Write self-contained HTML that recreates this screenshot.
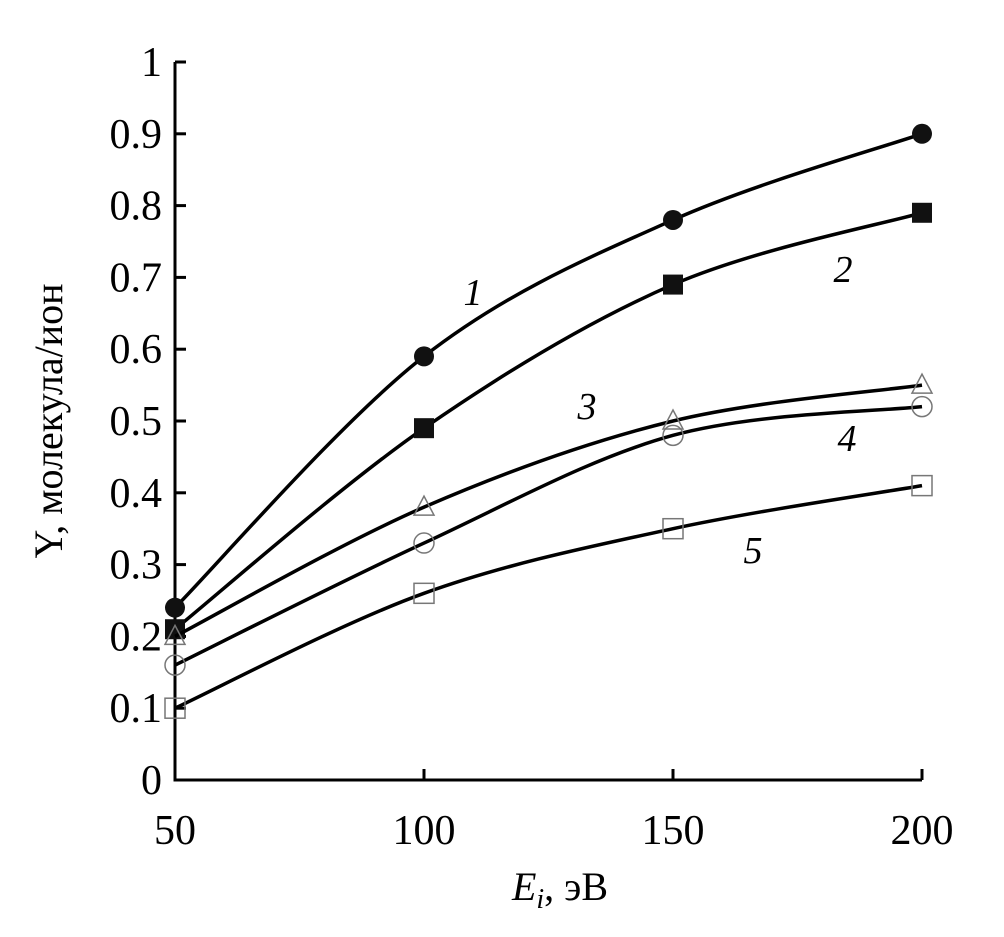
<!DOCTYPE html>
<html><head><meta charset="utf-8"><style>
html,body{margin:0;padding:0;background:#fff;}
svg{display:block;font-family:"Liberation Serif",serif;}
</style></head><body>
<svg id="chart" width="1004" height="937" viewBox="0 0 1004 937"></svg>
<script>
const xValues=[50,100,150,200];
const series1=[0.24,0.59,0.78,0.90];
const series2=[0.21,0.49,0.69,0.79];
const series3=[0.20,0.38,0.50,0.55];
const series4=[0.16,0.33,0.48,0.52];
const series5=[0.10,0.26,0.35,0.41];
const seriesNames=["1","2","3","4","5"];
const xTicks=[50,100,150,200];
const yTicks=[0,0.1,0.2,0.3,0.4,0.5,0.6,0.7,0.8,0.9,1];
const yTickLabels=["0","0.1","0.2","0.3","0.4","0.5","0.6","0.7","0.8","0.9","1"];

const NS="http://www.w3.org/2000/svg";
const svg=document.getElementById('chart');
const X0=175,X1=922,Y0=780,Y1=62;
const sx=v=>X0+(v-50)/150*(X1-X0);
const sy=v=>Y0-v*(Y0-Y1);
function el(t,a,p){const e=document.createElementNS(NS,t);for(const k in a)e.setAttribute(k,a[k]);(p||svg).appendChild(e);return e;}

const ax=el('path',{d:`M${X0} ${Y1} V${Y0} H${X1}`,stroke:'#000','stroke-width':3,fill:'none'});


yTicks.forEach((v,i)=>{
  const t=el('line',{x1:X0,x2:X0+11,y1:sy(v),y2:sy(v),stroke:'#000','stroke-width':3});
  
  
  const l=el('text',{x:X0-13,y:sy(v)+14,'text-anchor':'end','font-size':42});
  l.textContent=yTickLabels[i];
  
  
});
xTicks.forEach(v=>{
  const t=el('line',{x1:sx(v),x2:sx(v),y1:Y0,y2:Y0-11,stroke:'#000','stroke-width':3});
  
  
  const l=el('text',{x:sx(v),y:Y0+64,'text-anchor':'middle','font-size':42});
  l.textContent=String(v);
  
  
});
const yt=el('text',{transform:'translate(62,421) rotate(-90)','text-anchor':'middle','font-size':40});
yt.textContent='Y, молекула/ион';


const xt=el('text',{x:560,y:900,'text-anchor':'middle','font-size':40});
xt.innerHTML='<tspan font-style="italic">E</tspan><tspan font-style="italic" font-size="28" dy="8">i</tspan><tspan dy="-8">, эВ</tspan>';



function smooth(pts){
  let d=`M${pts[0][0]} ${pts[0][1]}`;
  for(let i=0;i<pts.length-1;i++){
    const p0=pts[Math.max(0,i-1)],p1=pts[i],p2=pts[i+1],p3=pts[Math.min(pts.length-1,i+2)];
    const t=0.5/3;
    d+=` C${p1[0]+(p2[0]-p0[0])*t} ${p1[1]+(p2[1]-p0[1])*t} ${p2[0]-(p3[0]-p1[0])*t} ${p2[1]-(p3[1]-p1[1])*t} ${p2[0]} ${p2[1]}`;
  }
  return d;
}
const all=[series1,series2,series3,series4,series5];
const markers=['fcircle','fsquare','otri','ocircle','osquare'];
all.forEach((s,k)=>{
  const g=el('g',{});
  
  
  const pts=s.map((v,i)=>[sx(xValues[i]),sy(v)]);
  const p=el('path',{d:smooth(pts),stroke:'#000','stroke-width':3.5,fill:'none'},g);
  
  
  pts.forEach(([x,y])=>{
    let m;const mk=markers[k];
    if(mk==='fcircle') m=el('circle',{cx:x,cy:y,r:10,fill:'#111'},g);
    else if(mk==='fsquare') m=el('rect',{x:x-10,y:y-10,width:20,height:20,fill:'#111'},g);
    else if(mk==='ocircle') m=el('circle',{cx:x,cy:y,r:10,fill:'none',stroke:'#777','stroke-width':1.5},g);
    else if(mk==='osquare') m=el('rect',{x:x-10,y:y-10,width:20,height:20,fill:'none',stroke:'#777','stroke-width':1.5},g);
    else m=el('path',{d:`M${x} ${y-11} L${x+10} ${y+8} L${x-10} ${y+8} Z`,fill:'none',stroke:'#777','stroke-width':1.5},g);
    
    
  });
});
const labelPos=[[473,305],[843,282],[587,419],[847,451],[753,563]];
labelPos.forEach((p,k)=>{
  const t=el('text',{x:p[0],y:p[1],'text-anchor':'middle','font-size':38,'font-style':'italic'});
  t.textContent=seriesNames[k];
  
  
});
</script>
</body></html>
